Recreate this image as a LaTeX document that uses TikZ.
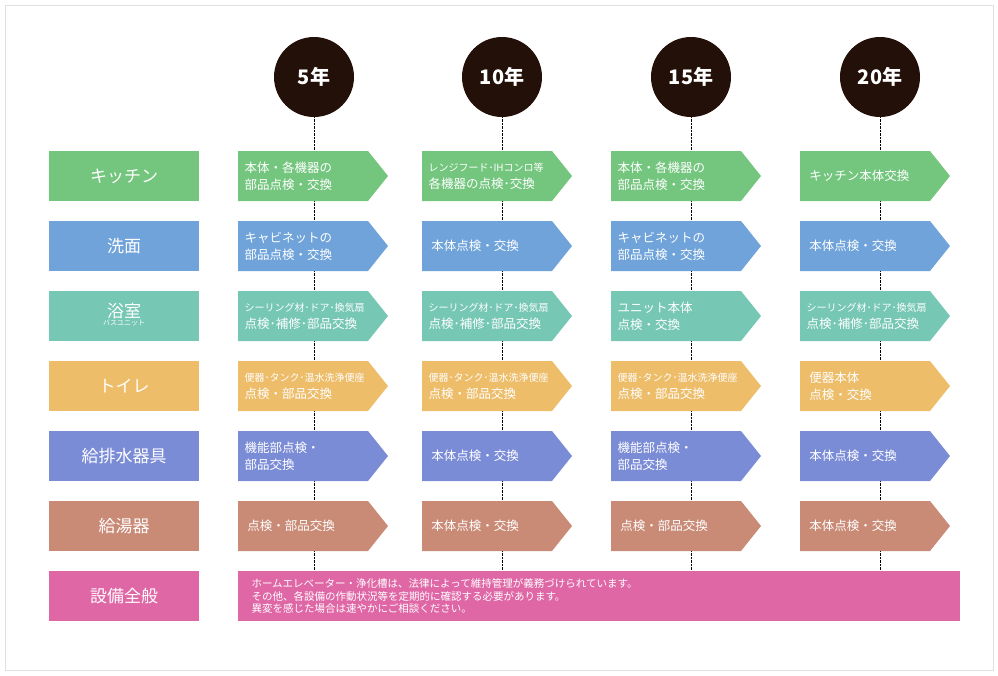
\documentclass[tikz,border=0pt]{standalone}
\usepackage{fontspec}
\newfontfamily\jp{Noto Sans CJK JP}
\usetikzlibrary{positioning}
\definecolor{kitchen}{HTML}{74C67F}
\definecolor{wash}{HTML}{6FA3D9}
\definecolor{bath}{HTML}{77C7B5}
\definecolor{toilet}{HTML}{EDBD6A}
\definecolor{pipe}{HTML}{7B8CD7}
\definecolor{heater}{HTML}{C98A76}
\definecolor{general}{HTML}{E067A6}
\definecolor{year}{HTML}{231008}
\tikzset{
 yearmark/.style={circle,fill=year,minimum size=80pt,text=white,font=\jp\bfseries\fontsize{20}{22}\selectfont},
 rowlabel/.style={fill=#1,minimum width=150pt,minimum height=50pt,text=white,font=\jp\fontsize{17}{19}\selectfont},
 celltext/.style={anchor=west,align=left,text=white,font=\jp\fontsize{12.5}{17}\selectfont},
}
% arrow cell: x, row y, colour, name, text
\newcommand\stepcell[5]{%
 \fill[#3] (#1,#2-25) -- ++(130,0) -- ++(20,25) -- ++(-20,25) -- ++(-130,0) -- cycle;
 \node[celltext] (#4) at (#1+3,#2) {#5};}
\begin{document}
\begin{tikzpicture}[x=1pt,y=-1pt]
 \useasboundingbox (0,0) rectangle (998,675);
 \draw[black!12] (5,5) rectangle (993,670);

 % Jahre
 \node[yearmark] (y5)  at (314,77) {5年};
 \node[yearmark] (y10) at (502,77) {10年};
 \node[yearmark] (y15) at (691,77) {15年};
 \node[yearmark] (y20) at (880,77) {20年};
 \foreach \n/\x in {y5/314,y10/502,y15/691,y20/880}{
  \coordinate (\n e) at (\x,570);
  \draw[densely dotted] (\n) -- (\n e);}

 % Zeilen
 \node[rowlabel=kitchen] (kit) at (124,176) {キッチン};
 \node[rowlabel=wash]    (was) at (124,246) {洗面};
 \node[rowlabel=bath]    (bat) at (124,316) {};
 \node[text=white,font=\jp\fontsize{17}{19}\selectfont] (batm) at (124,311) {浴室};
 \node[text=white,font=\jp\fontsize{7}{8}\selectfont,below=-6pt of batm] (bats) {バスユニット};
 \node[rowlabel=toilet]  (toi) at (124,386) {トイレ};
 \node[rowlabel=pipe]    (pip) at (124,456) {給排水器具};
 \node[rowlabel=heater]  (hea) at (124,526) {給湯器};
 \node[rowlabel=general] (gen) at (124,596) {設備全般};

 % キッチン
 \stepcell{238}{176}{kitchen}{k5}{本体・各機器の\\部品点検・交換}
 \stepcell{422}{176}{kitchen}{k10}{{\fontsize{10}{12}\selectfont レンジフード･IHコンロ等}\\各機器の点検･交換}
 \stepcell{611}{176}{kitchen}{k15}{本体・各機器の\\部品点検・交換}
 \stepcell{800}{176}{kitchen}{k20}{\ キッチン本体交換}
 % 洗面
 \stepcell{238}{246}{wash}{w5}{キャビネットの\\部品点検・交換}
 \stepcell{422}{246}{wash}{w10}{\ 本体点検・交換}
 \stepcell{611}{246}{wash}{w15}{キャビネットの\\部品点検・交換}
 \stepcell{800}{246}{wash}{w20}{\ 本体点検・交換}
 % 浴室
 \stepcell{238}{316}{bath}{b5}{{\fontsize{10}{12}\selectfont シーリング材･ドア･換気扇}\\点検･補修･部品交換}
 \stepcell{422}{316}{bath}{b10}{{\fontsize{10}{12}\selectfont シーリング材･ドア･換気扇}\\点検･補修･部品交換}
 \stepcell{611}{316}{bath}{b15}{ユニット本体\\点検・交換}
 \stepcell{800}{316}{bath}{b20}{{\fontsize{10}{12}\selectfont シーリング材･ドア･換気扇}\\点検･補修･部品交換}
 % トイレ
 \stepcell{238}{386}{toilet}{t5}{{\fontsize{10}{12}\selectfont 便器･タンク･温水洗浄便座}\\点検・部品交換}
 \stepcell{422}{386}{toilet}{t10}{{\fontsize{10}{12}\selectfont 便器･タンク･温水洗浄便座}\\点検・部品交換}
 \stepcell{611}{386}{toilet}{t15}{{\fontsize{10}{12}\selectfont 便器･タンク･温水洗浄便座}\\点検・部品交換}
 \stepcell{800}{386}{toilet}{t20}{\ 便器本体\\\ 点検・交換}
 % 給排水器具
 \stepcell{238}{456}{pipe}{p5}{機能部点検・\\部品交換}
 \stepcell{422}{456}{pipe}{p10}{\ 本体点検・交換}
 \stepcell{611}{456}{pipe}{p15}{機能部点検・\\部品交換}
 \stepcell{800}{456}{pipe}{p20}{\ 本体点検・交換}
 % 給湯器
 \stepcell{238}{526}{heater}{h5}{\ 点検・部品交換}
 \stepcell{422}{526}{heater}{h10}{\ 本体点検・交換}
 \stepcell{611}{526}{heater}{h15}{\ 点検・部品交換}
 \stepcell{800}{526}{heater}{h20}{\ 本体点検・交換}

 % 設備全般
 \fill[general] (238,571) rectangle (960,621);
 \node[celltext,font=\jp\fontsize{10.5}{12.5}\selectfont] (note) at (248,596)
  {ホームエレベーター・浄化槽は、法律によって維持管理が義務づけられています。\\
   その他、各設備の作動状況等を定期的に確認する必要があります。\\
   異変を感じた場合は速やかにご相談ください。};
\end{tikzpicture}
\end{document}
